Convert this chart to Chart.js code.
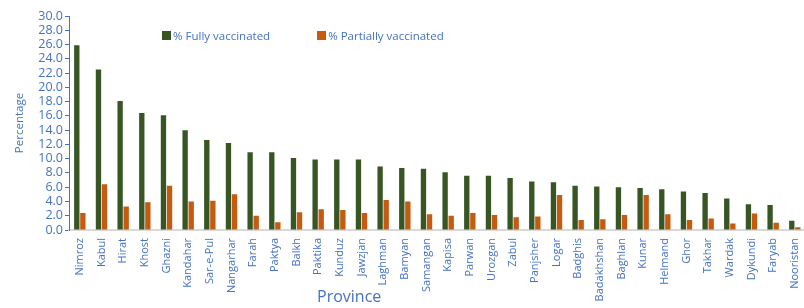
<!DOCTYPE html>
<html>
<head>
<meta charset="utf-8">
<script src="https://cdn.jsdelivr.net/npm/chart.js@4/dist/chart.umd.min.js"></script>
<style>
  html, body { margin: 0; padding: 0; background: #fff; }
  #wrap { position: relative; width: 804px; height: 308px; overflow: hidden; }
  #legend { position: absolute; top: 28px; left: 162px; font: 11.5px "Open Sans", sans-serif; color: #4472C4; white-space: nowrap; }
  #legend span.item { display: inline-flex; align-items: center; }
  #legend i { display: inline-block; width: 9px; height: 9px; margin-right: 2px; }
  #xtitle { position: absolute; top: 285px; left: 317px; font: 16px "Open Sans", sans-serif; color: #4472C4; }
</style>
</head>
<body>
<div id="wrap">
  <canvas id="c" width="816" height="308"></canvas>
  <div id="legend"></div>
  <div id="xtitle">Province</div>
</div>
<script>
// Province-level vaccination coverage (%)
const provinces = ['Nimroz', 'Kabul', 'Hirat', 'Khost', 'Ghazni', 'Kandahar', 'Sar-e-Pul', 'Nangarhar',
  'Farah', 'Paktya', 'Balkh', 'Paktika', 'Kunduz', 'Jawzjan', 'Laghman', 'Bamyan', 'Samangan',
  'Kapisa', 'Parwan', 'Urozgan', 'Zabul', 'Panjsher', 'Logar', 'Badghis', 'Badakhshan', 'Baghlan',
  'Kunar', 'Helmand', 'Ghor', 'Takhar', 'Wardak', 'Dykundi', 'Faryab', 'Nooristan'];

const fullyVaccinated = [25.9, 22.5, 18.1, 16.4, 16.1, 14.0, 12.6, 12.2,
  10.9, 10.9, 10.1, 9.9, 9.9, 9.9, 8.9, 8.7, 8.6,
  8.1, 7.6, 7.6, 7.3, 6.8, 6.7, 6.2, 6.1, 6.0,
  5.9, 5.7, 5.4, 5.2, 4.4, 3.6, 3.5, 1.3];

const partiallyVaccinated = [2.4, 6.4, 3.3, 3.9, 6.2, 4.0, 4.1, 5.0,
  2.0, 1.1, 2.5, 2.9, 2.8, 2.4, 4.2, 4.0, 2.2,
  2.0, 2.4, 2.1, 1.8, 1.9, 4.9, 1.4, 1.5, 2.1,
  4.9, 2.2, 1.4, 1.6, 0.9, 2.3, 1.0, 0.4];

const seriesNames = ['% Fully vaccinated', '% Partially vaccinated'];
const seriesColors = ['#375623', '#C55A11'];

const axisBlue = '#4472C4';
const font = '"Open Sans", sans-serif';

// Legend sits inside the plot, offset left, like the original
const legend = document.getElementById('legend');
seriesNames.forEach((name, i) => {
  const s = document.createElement('span');
  s.className = 'item';
  s.style.marginRight = i === 0 ? '47px' : '0';
  s.innerHTML = `<i style="background:${seriesColors[i]}"></i>${name}`;
  legend.appendChild(s);
});

// canvas is a bit wider than the page so the last category runs to the edge
new Chart(document.getElementById('c'), {
  type: 'bar',
  data: {
    labels: provinces,
    datasets: [
      { label: seriesNames[0], data: fullyVaccinated, backgroundColor: seriesColors[0] },
      { label: seriesNames[1], data: partiallyVaccinated, backgroundColor: seriesColors[1] }
    ]
  },
  options: {
    responsive: false,
    animation: false,
    layout: { padding: { top: 16, right: 0, left: 10, bottom: 2 } },
    datasets: { bar: { categoryPercentage: 0.56, barPercentage: 0.88 } },
    plugins: { legend: { display: false }, tooltip: { enabled: false } },
    scales: {
      x: {
        grid: { display: false, drawTicks: false },
        border: { color: '#d9d9d9', width: 2 },
        ticks: { color: axisBlue, font: { family: font, size: 11 }, minRotation: 90, maxRotation: 90, autoSkip: false, padding: 8 },
        afterFit: s => { s.height = 76; }
      },
      y: {
        min: 0,
        max: 30,
        grid: { drawOnChartArea: false, color: axisBlue, tickLength: 4 },
        border: { color: axisBlue, width: 1 },
        ticks: { stepSize: 2, autoSkip: false, color: axisBlue, font: { family: font, size: 12.5 }, padding: 2, callback: v => v.toFixed(1) },
        title: { display: true, text: 'Percentage', color: axisBlue, font: { family: font, size: 11.5 }, padding: { top: 3, bottom: 0 } },
        afterFit: s => { s.width = 59; }
      }
    }
  }
});
</script>
</body>
</html>
